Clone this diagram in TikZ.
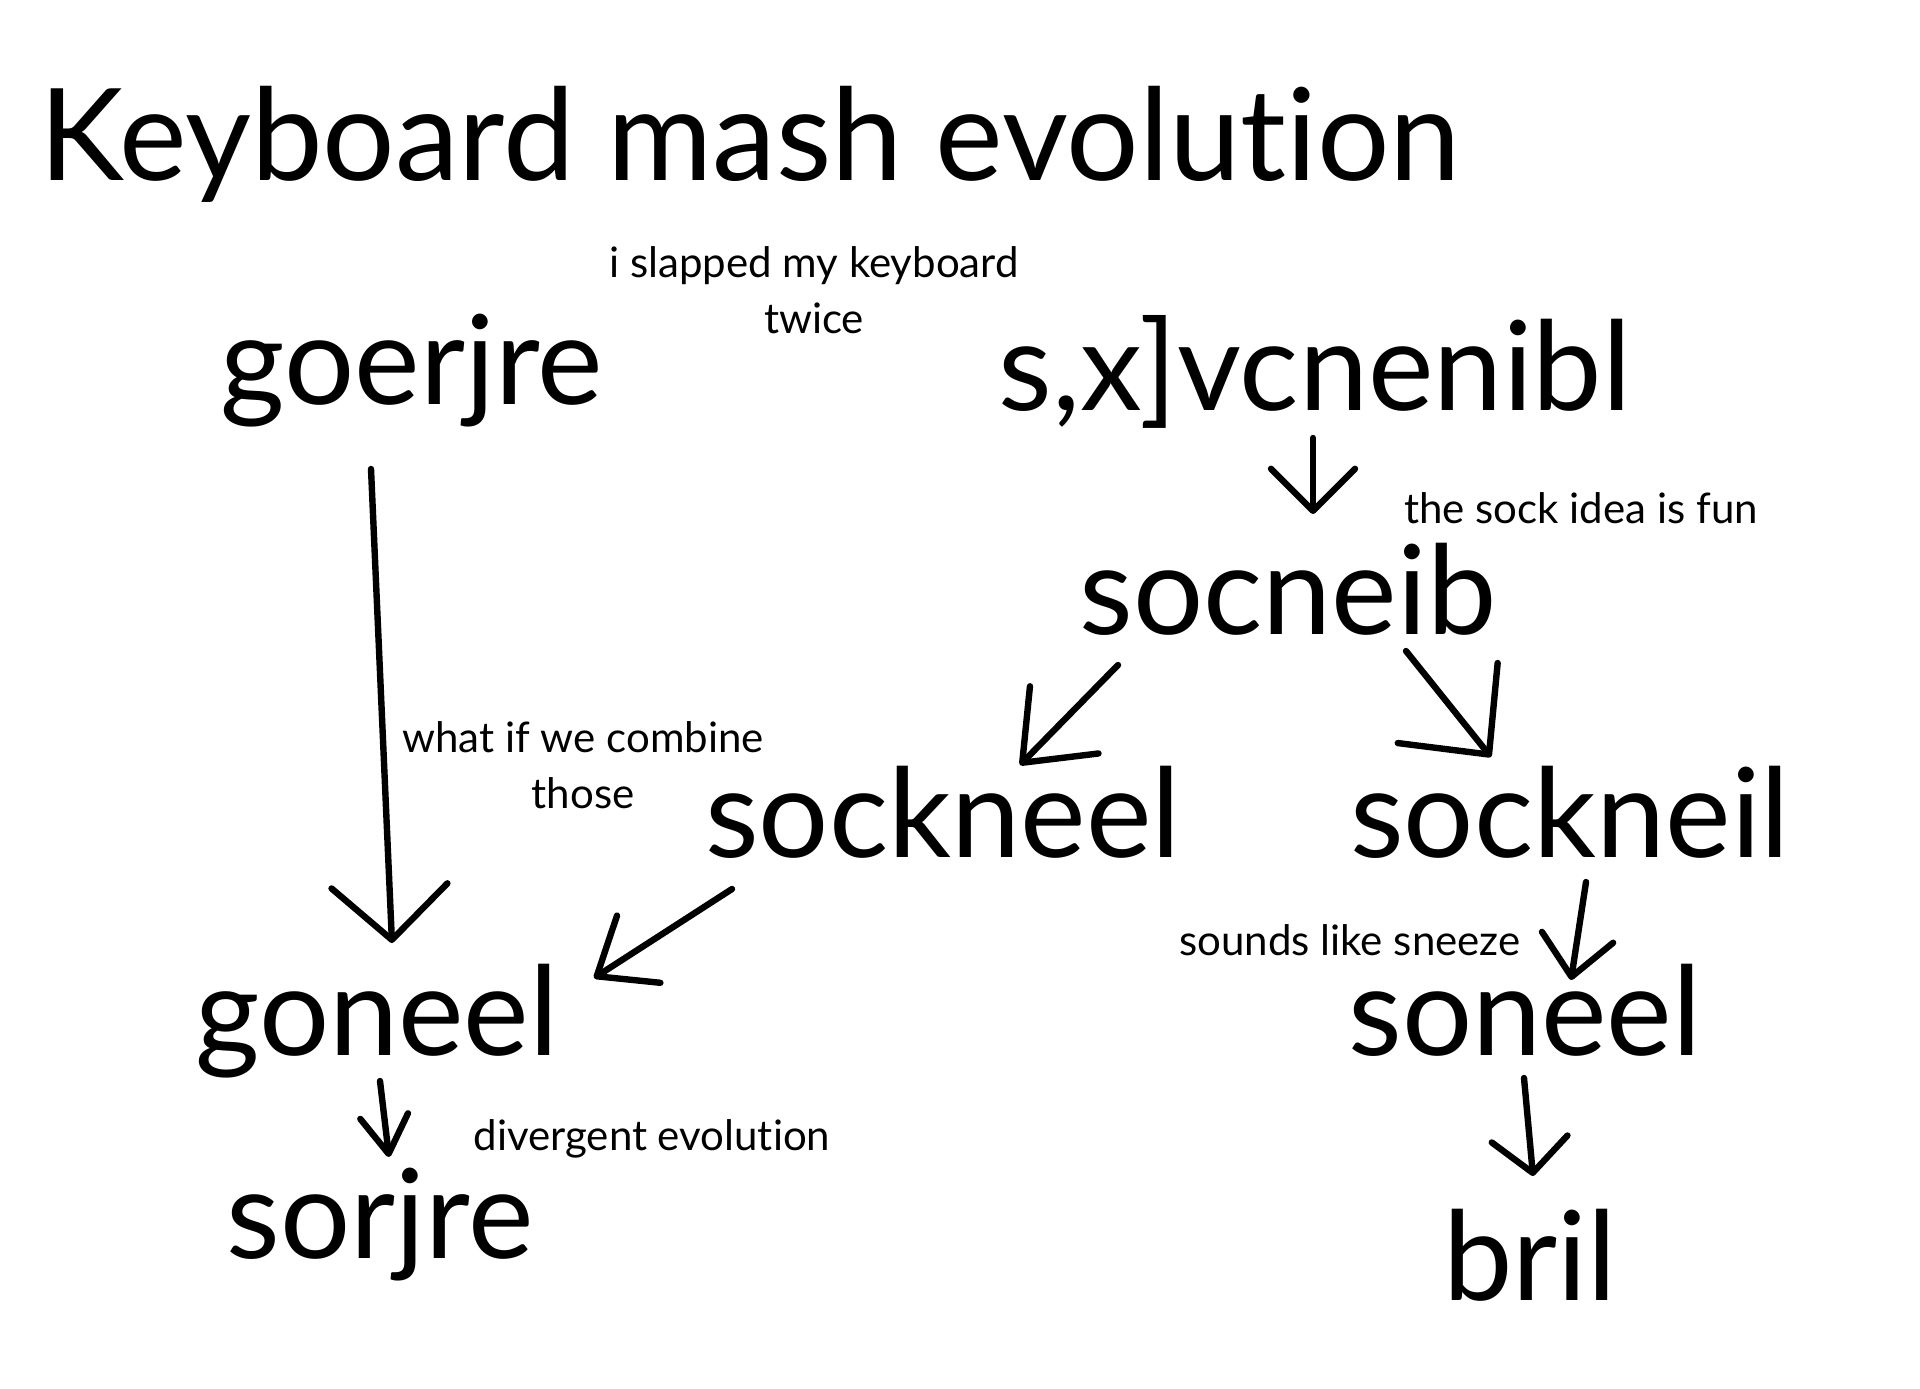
\documentclass[tikz,border=0pt]{standalone}
\usepackage{fontspec}
\setmainfont{Lato}[Ligatures=NoCommon]
\usetikzlibrary{arrows.meta}
\tikzset{title/.style={anchor=base,inner sep=0pt,font=\fontsize{64}{70}\selectfont}}
\tikzset{word/.style={anchor=base,inner sep=0pt,font=\fontsize{62}{68}\selectfont}}
\tikzset{note/.style={anchor=center,inner sep=0pt,align=center,font=\fontsize{21}{28}\selectfont}}
\tikzset{evo/.style 2 args={line width=3.2pt,line cap=round,line join=round,
    -{Straight Barb[length=#1,width=#2,round]}}}

\begin{document}
\begin{tikzpicture}[x=0.5pt,y=-0.5pt]
    \path[use as bounding box,fill=white] (0,0) rectangle (1920,1388);

    \node[title] (heading) at (750,180) {Keyboard mash evolution};

    % the words
    \node[word] (goerjre) at (412,404) {goerjre};
    \node[word] (mash) at (1315,410) {s,x]vcnenibl};
    \node[word] (socneib) at (1288,634) {socneib};
    \node[word] (sockneel) at (943,857) {sockneel};
    \node[word] (sockneil) at (1570,857) {sockneil};
    \node[word] (goneel) at (377,1055) {goneel};
    \node[word] (soneel) at (1525,1055) {soneel};
    \node[word] (sorjre) at (380,1258) {sorjre};
    \node[word] (bril) at (1530,1300) {bril};

    % the notes
    \node[note] (slapped) at (814,290) {i slapped my keyboard\\twice};
    \node[note] (sockfun) at (1581,508) {the sock idea is fun};
    \node[note] (combine) at (583,765) {what if we combine\\those};
    \node[note] (sneeze) at (1350,940) {sounds like sneeze};
    \node[note] (divergent) at (652,1139) {divergent evolution};

    % arrow ends
    \coordinate (goerjre-out) at (371,469);
    \coordinate (goneel-in) at (392,943);
    \coordinate (mash-out) at (1313,438);
    \coordinate (socneib-in) at (1313,514);
    \coordinate (socneib-l) at (1118,665);
    \coordinate (sockneel-in) at (1020,765);
    \coordinate (socneib-r) at (1406,651);
    \coordinate (sockneil-in) at (1491,757);
    \coordinate (sockneel-out) at (732,889);
    \coordinate (goneel-r) at (594,978);
    \coordinate (sockneil-out) at (1586,882);
    \coordinate (soneel-in) at (1571,980);
    \coordinate (goneel-out) at (380,1081);
    \coordinate (sorjre-in) at (389,1157);
    \coordinate (soneel-out) at (1524,1078);
    \coordinate (bril-in) at (1533,1176);

    \draw[evo={27pt}{58pt}] (goerjre-out) -- (goneel-in);
    \draw[evo={21pt}{42pt}] (mash-out) -- (socneib-in);
    \draw[evo={30pt}{48pt}] (socneib-l) -- (sockneel-in);
    \draw[evo={33pt}{64pt}] (socneib-r) -- (sockneil-in);
    \draw[evo={25pt}{40pt}] (sockneel-out) -- (goneel-r);
    \draw[evo={20pt}{36pt}] (sockneil-out) -- (soneel-in);
    \draw[evo={19pt}{24pt}] (goneel-out) -- (sorjre-in);
    \draw[evo={17pt}{38pt}] (soneel-out) -- (bril-in);
\end{tikzpicture}
\end{document}
